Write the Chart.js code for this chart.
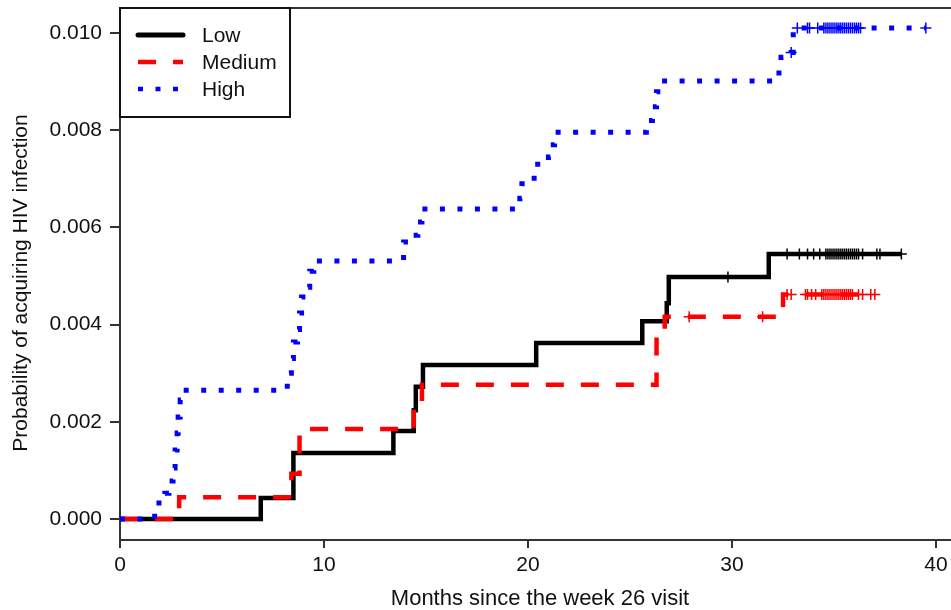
<!DOCTYPE html>
<html>
<head>
<meta charset="utf-8">
<title>Probability of acquiring HIV infection</title>
<script src="https://cdn.jsdelivr.net/npm/chart.js@4.4.1/dist/chart.umd.min.js"></script>
<style>
  html, body { margin: 0; padding: 0; background: #fff; }
  #wrap { width: 951px; height: 610px; position: relative; }
</style>
</head>
<body>
<div id="wrap"><canvas id="kmChart" width="951" height="610"></canvas></div>
<script>
// Series names (legend order)
const seriesNames = ['Low', 'Medium', 'High'];

// Step points: time (months) where the curve jumps, and the value after the jump
const lowTimes = [0, 6.9, 8.5, 13.4, 14.4, 14.5, 14.85, 20.4, 25.6, 26.8, 26.9, 31.8, 38.3];
const lowProb  = [0, 0.00043, 0.00136, 0.00181, 0.00224, 0.00272, 0.00317, 0.00362, 0.00407, 0.00444, 0.00498, 0.00545, 0.00545];

const mediumTimes = [0, 2.9, 8.4, 8.8, 14.4, 14.8, 26.3, 26.7, 32.5, 37.0];
const mediumProb  = [0, 0.00045, 0.00093, 0.00185, 0.00230, 0.00276, 0.00385, 0.00416, 0.00462, 0.00462];

const highTimes = [0, 1.7, 2.2, 2.4, 2.6, 2.7, 2.8, 2.85, 2.95, 3.1,
  8.2, 8.4, 8.5, 8.7, 8.8, 8.9, 9.1, 9.3, 9.5,
  13.9, 14.3, 14.6, 14.8,
  19.6, 19.7, 20.3, 21.0, 21.1, 21.3,
  25.8, 26.1, 26.3, 26.5,
  32.3, 32.4, 32.9, 33.0, 39.5];
const highProb = [0, 0.00033, 0.00053, 0.00078, 0.00105, 0.00142, 0.00177, 0.0021, 0.00245, 0.00265,
  0.0030, 0.0033, 0.00364, 0.0039, 0.00424, 0.00457, 0.00477, 0.0051, 0.00531,
  0.0057, 0.00584, 0.00611, 0.00638,
  0.0066, 0.0069, 0.0073, 0.00745, 0.0077, 0.00796,
  0.0082, 0.00848, 0.00879, 0.00901,
  0.0093, 0.0095, 0.0096, 0.0101, 0.0101];

// Censoring times (+ marks)
const lowCensor = [29.8, 32.7, 33.3, 33.7, 34.0, 34.3, 34.6, 34.7, 34.8, 34.9, 35.0, 35.1, 35.2, 35.3,
  35.4, 35.5, 35.6, 35.7, 35.8, 35.9, 36.0, 36.1, 36.2, 36.4, 37.1, 37.25, 38.3];
const mediumCensor = [27.9, 31.5, 32.7, 32.9, 33.6, 33.7, 33.9, 34.1, 34.4, 34.5, 34.6, 34.7, 34.8,
  34.9, 35.0, 35.1, 35.2, 35.3, 35.4, 35.5, 35.6, 35.7, 35.8, 35.9, 36.2, 36.4, 36.8, 37.0];
const highCensor = [32.9, 33.2, 33.7, 33.8, 34.2, 34.5, 34.6, 34.7, 34.8, 34.9, 35.0, 35.1, 35.2, 35.3,
  35.4, 35.5, 35.6, 35.7, 35.8, 35.9, 36.0, 36.1, 36.2, 36.3, 39.5];

// Axis ticks
const xTickValues = [0, 10, 20, 30, 40];
const yTickValues = [0, 0.002, 0.004, 0.006, 0.008, 0.010];

const axisFont = '"Liberation Sans", Arial, Helvetica, sans-serif';
const inkColor = '#111';
const axisColor = '#333';

const styles = [
  { color: '#000000', dash: [] },
  { color: '#ff0000', dash: [18, 17] },
  { color: '#0000ff', dash: [5, 12.5] }
];

// value of a step curve at time t
function stepValue(times, probs, t) {
  let v = probs[0];
  for (let i = 0; i < times.length; i++) {
    if (times[i] <= t) v = probs[i];
  }
  return v;
}

function stepData(times, probs) {
  return times.map((t, i) => ({ x: t, y: probs[i] }));
}

function censorData(marks, times, probs) {
  return marks.map(t => ({ x: t, y: stepValue(times, probs, t) }));
}

function curve(idx, data, order) {
  return {
    type: 'line',
    label: seriesNames[idx],
    data: data,
    borderColor: styles[idx].color,
    borderWidth: idx === 2 ? 5 : 4.5,
    borderDash: styles[idx].dash,
    borderCapStyle: 'butt',
    stepped: true,
    pointRadius: 0,
    fill: false,
    order: order
  };
}

function marks(idx, data, order) {
  return {
    type: 'scatter',
    label: seriesNames[idx] + ' censored',
    data: data,
    showLine: false,
    pointStyle: 'cross',
    pointRadius: 5.5,
    borderWidth: 1.5,
    borderColor: styles[idx].color,
    backgroundColor: styles[idx].color,
    order: order
  };
}

// keep the plot box where the reference has it: no extra room for edge labels
function noEdgePadding(scale) {
  scale.paddingTop = 0;
  scale.paddingBottom = 0;
  scale.paddingLeft = 0;
  scale.paddingRight = 0;
}

// Frame top, legend box and axis titles
const framePlugin = {
  id: 'framePlugin',
  afterDraw(chart) {
    const ctx = chart.ctx;
    const area = chart.chartArea;
    ctx.save();

    // plot box runs past the right edge of the picture
    ctx.strokeStyle = axisColor;
    ctx.lineWidth = 2;
    ctx.beginPath();
    ctx.moveTo(area.left, area.top);
    ctx.lineTo(chart.width, area.top);
    ctx.moveTo(area.right - 1, area.bottom);
    ctx.lineTo(chart.width, area.bottom);
    ctx.stroke();

    // legend
    const lx = area.left, ly = area.top, lw = 170, lh = 109;
    ctx.fillStyle = '#fff';
    ctx.fillRect(lx, ly, lw, lh);
    ctx.strokeStyle = '#111';
    ctx.lineWidth = 2;
    ctx.strokeRect(lx, ly, lw, lh);

    ctx.font = '21px ' + axisFont;
    ctx.textBaseline = 'middle';
    ctx.textAlign = 'left';
    seriesNames.forEach((name, i) => {
      const y = ly + 27 + i * 27;
      ctx.beginPath();
      ctx.strokeStyle = styles[i].color;
      ctx.lineWidth = i === 0 ? 5 : 4.5;
      ctx.lineCap = i === 0 ? 'round' : 'butt';
      ctx.setLineDash(styles[i].dash);
      ctx.moveTo(lx + 18, y);
      ctx.lineTo(lx + 63, y);
      ctx.stroke();
      ctx.setLineDash([]);
      ctx.fillStyle = inkColor;
      ctx.fillText(name, lx + 82, y + 1);
    });

    // axis titles
    ctx.fillStyle = inkColor;
    ctx.textAlign = 'center';
    ctx.textBaseline = 'middle';
    ctx.font = '22px ' + axisFont;
    ctx.fillText('Months since the week 26 visit', 540, 599);

    ctx.translate(21, 283);
    ctx.rotate(-Math.PI / 2);
    ctx.font = '21px ' + axisFont;
    ctx.fillText('Probability of acquiring HIV infection', 0, 0);
    ctx.restore();
  }
};

function initChart() {
  const ctx = document.getElementById('kmChart').getContext('2d');
  return new Chart(ctx, {
    type: 'line',
    data: {
      datasets: [
        curve(0, stepData(lowTimes, lowProb), 6),
        marks(0, censorData(lowCensor, lowTimes, lowProb), 5),
        curve(1, stepData(mediumTimes, mediumProb), 4),
        marks(1, censorData(mediumCensor, mediumTimes, mediumProb), 3),
        curve(2, stepData(highTimes, highProb), 2),
        marks(2, censorData(highCensor, highTimes, highProb), 1)
      ]
    },
    options: {
      responsive: false,
      devicePixelRatio: 1,
      animation: false,
      layout: { padding: { top: 8, right: 0, left: 0, bottom: 0 } },
      plugins: {
        legend: { display: false },
        tooltip: { enabled: false },
        title: { display: false }
      },
      scales: {
        x: {
          type: 'linear',
          min: 0,
          max: 40.39,
          afterBuildTicks: axis => { axis.ticks = xTickValues.map(v => ({ value: v })); },
          afterFit: scale => { scale.height = 70; noEdgePadding(scale); },
          ticks: {
            font: { family: axisFont, size: 21 },
            color: inkColor,
            padding: 5,
            maxRotation: 0,
            callback: v => String(v)
          },
          grid: { drawOnChartArea: false, drawTicks: true, tickLength: 8, color: axisColor, lineWidth: 2 },
          border: { display: true, color: axisColor, width: 2 }
        },
        y: {
          type: 'linear',
          min: -0.000432,
          max: 0.010514,
          afterBuildTicks: axis => { axis.ticks = yTickValues.map(v => ({ value: v })); },
          afterFit: scale => { scale.width = 120; noEdgePadding(scale); },
          ticks: {
            font: { family: axisFont, size: 21 },
            color: inkColor,
            padding: 8,
            callback: v => v.toFixed(3)
          },
          grid: { drawOnChartArea: false, drawTicks: true, tickLength: 10, color: axisColor, lineWidth: 2 },
          border: { display: true, color: axisColor, width: 2 }
        }
      }
    },
    plugins: [framePlugin]
  });
}

document.addEventListener('DOMContentLoaded', () => {
  initChart();
});
</script>
</body>
</html>
